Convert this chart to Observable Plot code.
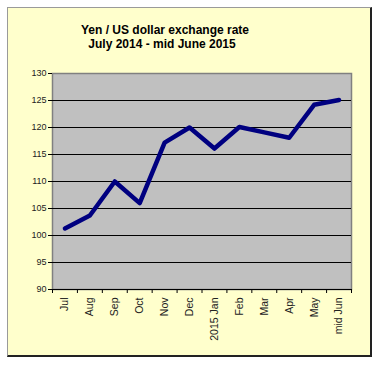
<!DOCTYPE html>
<html>
<head>
<meta charset="utf-8">
<script src="https://cdn.jsdelivr.net/npm/d3@7"></script>
<script src="https://cdn.jsdelivr.net/npm/@observablehq/plot@0.6"></script>
<style>
  html, body { margin: 0; padding: 0; background: white; }
  #wrap { position: relative; width: 377px; height: 367px; }
  #panel { position: absolute; left: 7px; top: 7px; width: 362px; height: 347px;
           background: #FFFFCC; border-top: 1px solid #9a9a9a; border-left: 1px solid #9a9a9a;
           border-right: 2px solid #222; border-bottom: 2px solid #222; }
  #chart { position: absolute; left: 0; top: 0; }
</style>
</head>
<body>
<div id="wrap"><div id="panel"></div><div id="chart"></div></div>
<script>
const titleLines = ["Yen / US dollar exchange rate", "July 2014 - mid June 2015"];
const categories = ["Jul", "Aug", "Sep", "Oct", "Nov", "Dec", "2015 Jan", "Feb", "Mar", "Apr", "May", "mid Jun"];
const values = [101.3, 103.7, 110, 106, 117.2, 120, 116.1, 120.1, 119.1, 118.1, 124.2, 125.1];
const yTicks = [90, 95, 100, 105, 110, 115, 120, 125, 130];
const gridValues = [95, 100, 105, 110, 115, 120, 125];

const data = categories.map((c, i) => ({i, c, v: values[i]}));
const idx = categories.map((c, i) => i);
const bounds = categories.map((c, i) => i - 0.5).concat([categories.length - 0.5]);

const font = "'Liberation Sans', Arial, sans-serif";

const chart = Plot.plot({
  width: 377,
  height: 367,
  marginLeft: 52,
  marginRight: 26,
  marginTop: 73,
  marginBottom: 78,
  style: {background: "transparent", fontFamily: font, overflow: "visible"},
  x: {type: "linear", domain: [-0.5, categories.length - 0.5]},
  y: {domain: [90, 130]},
  marks: [
    Plot.frame({fill: "#C0C0C0", stroke: "#808080", strokeWidth: 1.5}),
    Plot.ruleY(gridValues, {stroke: "#000", strokeWidth: 1}),
    Plot.ruleY([90], {stroke: "#000", strokeWidth: 1}),
    Plot.axisY(yTicks, {tickSize: 4, tickPadding: 2, fontSize: 9, fill: "#222", label: null, stroke: "#000"}),
    Plot.axisX(bounds, {tickSize: 4, tickFormat: () => "", label: null, stroke: "#000"}),
    Plot.axisX(idx, {tickSize: 0, tickPadding: 8, tickRotate: -90, fontSize: 10.5, fill: "#222",
      tickFormat: i => categories[i], label: null}),
    Plot.line(data, {x: "i", y: "v", stroke: "#000080", strokeWidth: 4.5, strokeLinejoin: "round", strokeLinecap: "round"}),
    Plot.text([titleLines[0]], {frameAnchor: "top", dx: -37, dy: -43, text: d => d, fontSize: 12, fontWeight: "bold", fill: "#000", lineAnchor: "middle"}),
    Plot.text([titleLines[1]], {frameAnchor: "top", dx: -40, dy: -29, text: d => d, fontSize: 12, fontWeight: "bold", fill: "#000", lineAnchor: "middle"})
  ]
});
document.getElementById("chart").appendChild(chart);
</script>
</body>
</html>
